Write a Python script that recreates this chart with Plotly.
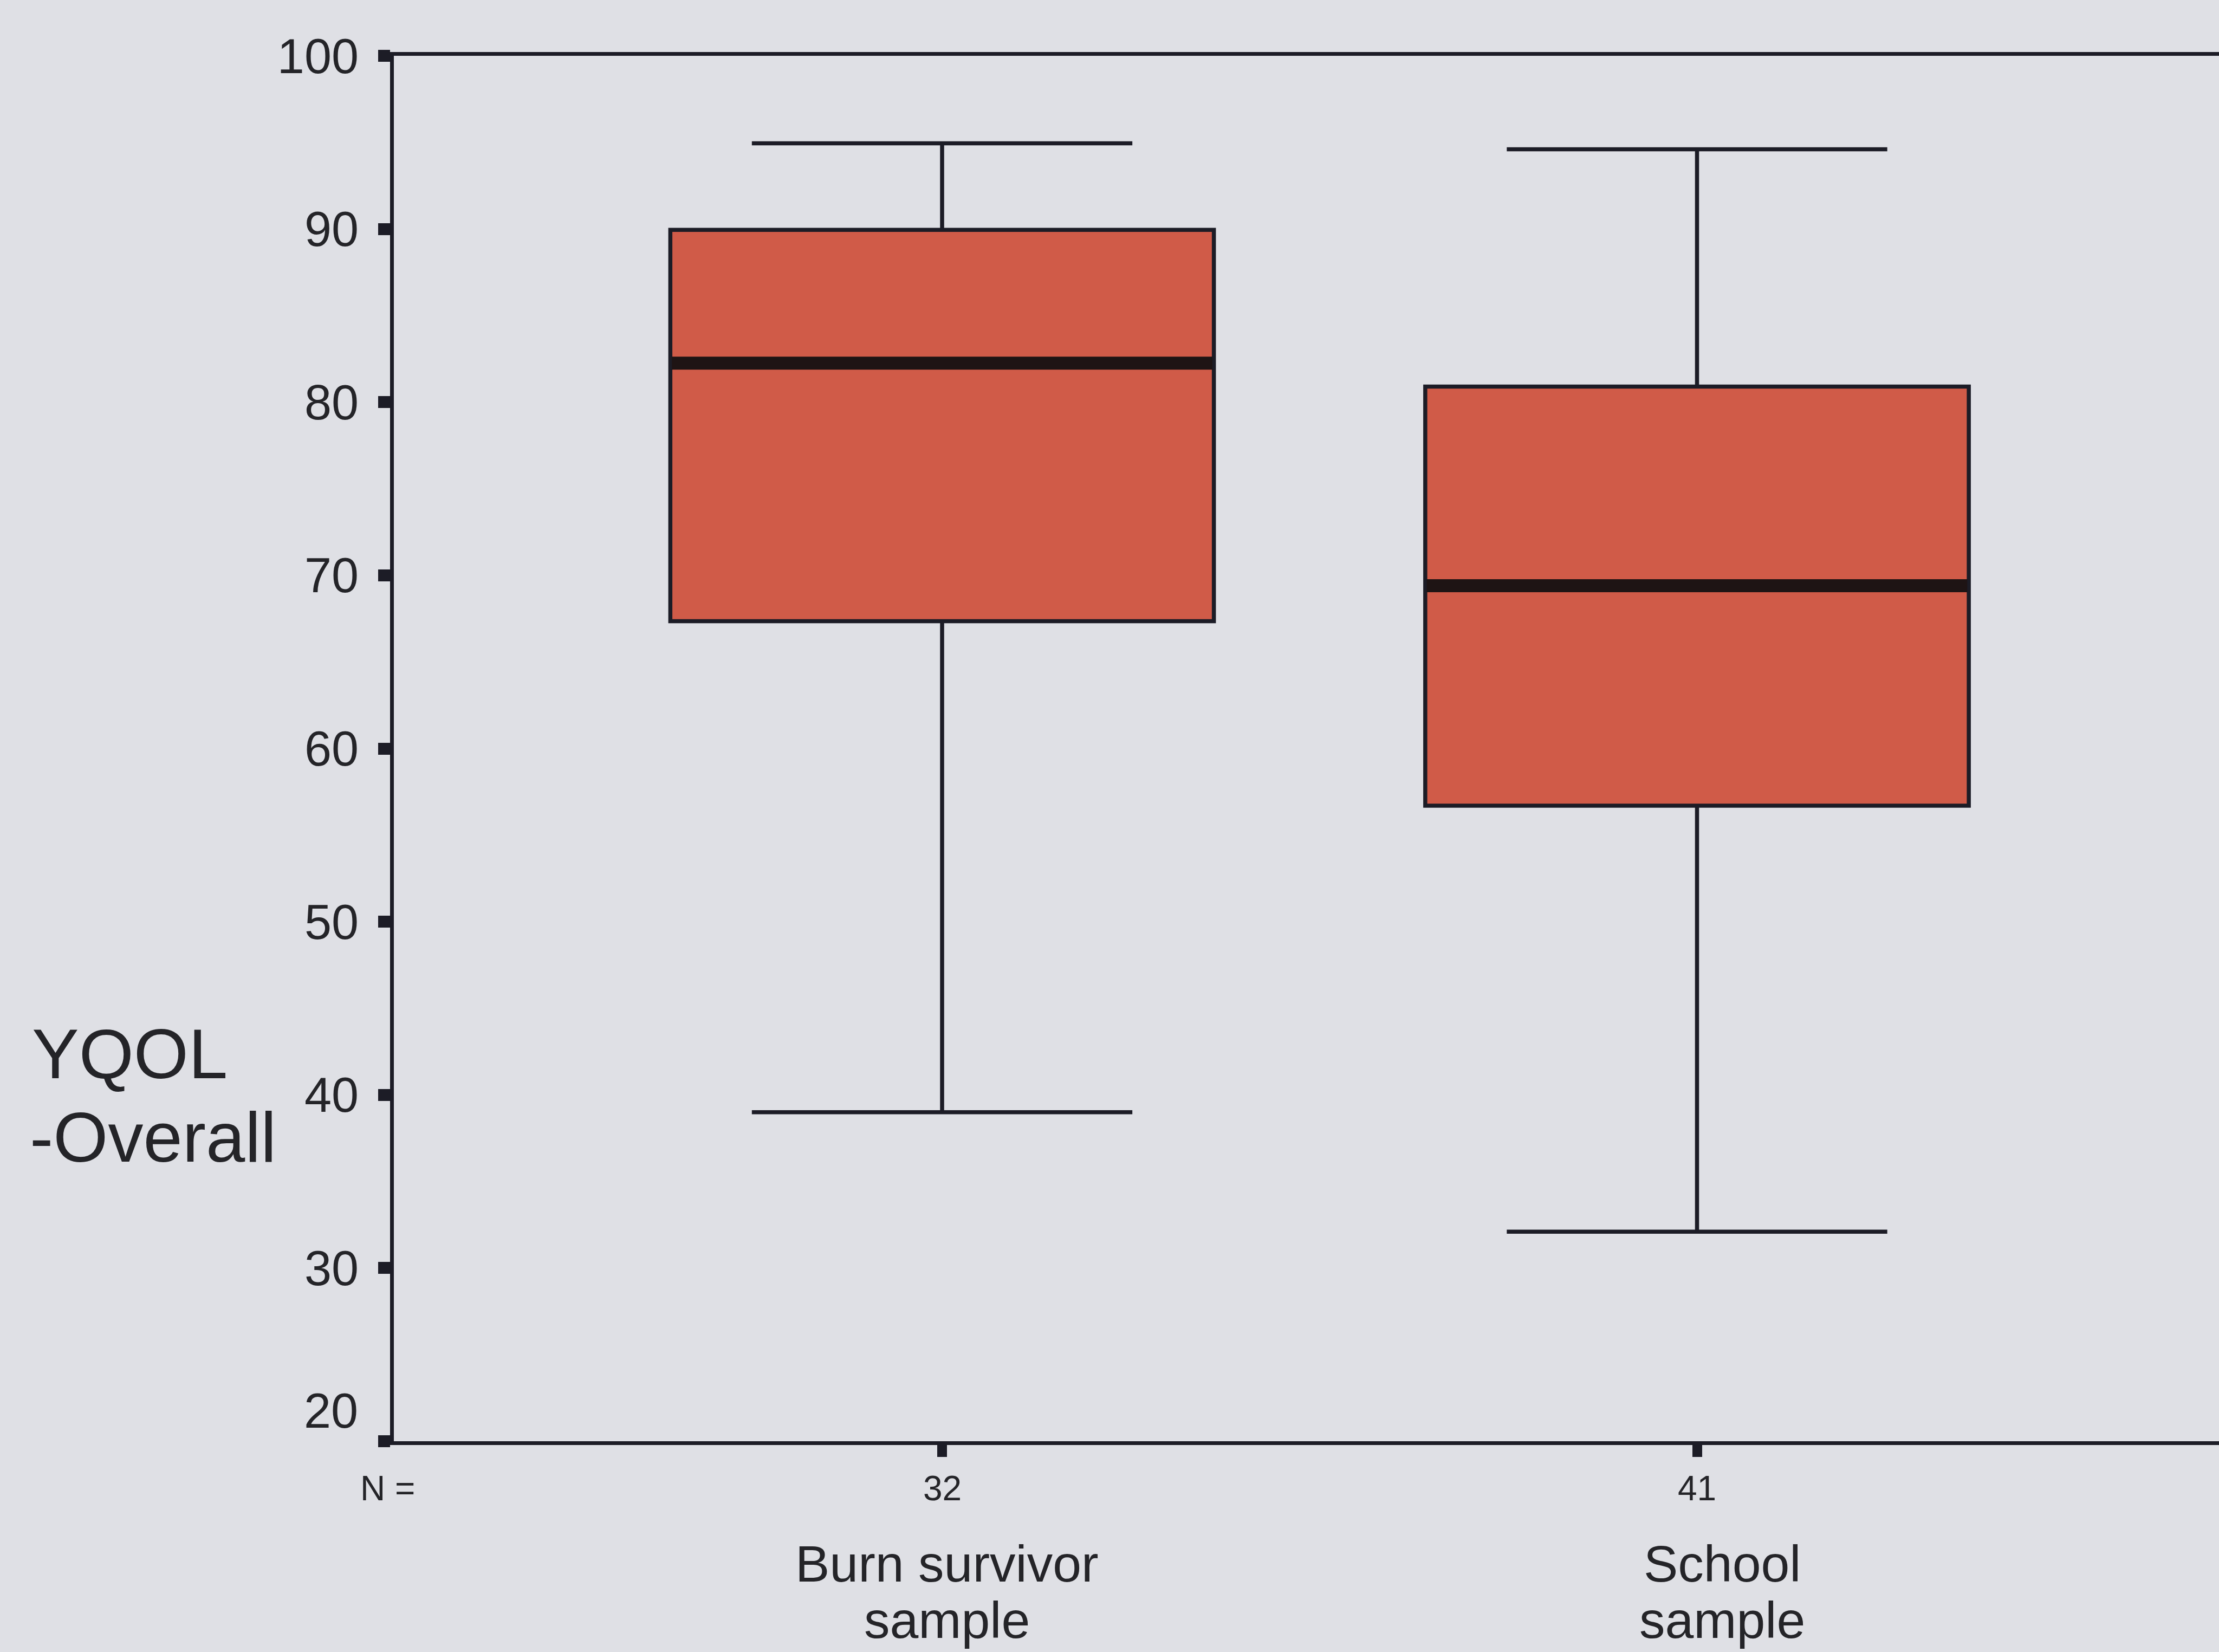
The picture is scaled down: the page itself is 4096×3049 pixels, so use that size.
import plotly.graph_objects as go

# YQOL-Overall scores by sample: five-number summaries for each box
group_line1 = ["Burn survivor", "School"]
group_line2 = ["sample", "sample"]
n_counts = [32, 41]
lower_whisker = [39.0, 32.1]
q1 = [67.35, 56.7]
median = [82.25, 69.4]
q3 = [89.95, 80.9]
upper_whisker = [94.95, 94.6]

y_ticks = [20, 30, 40, 50, 60, 70, 80, 90, 100]

positions = list(range(len(n_counts)))

FONT = "Liberation Sans, Arial, Helvetica, sans-serif"
TEXT = "#242428"
LINE = "#1c1c26"
BG = "#dfe0e5"
FILL = "#d05b48"
BOX_W = 0.72

W, H = 4096, 3049
ML, MR, MT, MB = 727, 0, 103, 389
PW = W - ML - MR
PH = H - MT - MB


def px_to_paper_x(px):
    return (px - ML) / PW


def px_to_paper_y(py):
    return (H - MB - py) / PH


fig = go.Figure()

fig.add_trace(go.Box(
    x=positions,
    q1=q1,
    median=median,
    q3=q3,
    lowerfence=lower_whisker,
    upperfence=upper_whisker,
    width=BOX_W,
    whiskerwidth=0.7,
    fillcolor=FILL,
    line=dict(color=LINE, width=7.5),
    boxpoints=False,
    showlegend=False,
    hoverinfo="skip",
))

# heavy median bars drawn over each box
for p, m in zip(positions, median):
    half = BOX_W / 2 - 0.002
    fig.add_trace(go.Scatter(
        x=[p - half, p + half],
        y=[m, m],
        mode="lines",
        line=dict(color="#1e1414", width=24),
        showlegend=False,
        hoverinfo="skip",
    ))

annotations = []

# sample sizes under the axis
annotations.append(dict(
    text="N =", xref="paper", yref="paper",
    x=px_to_paper_x(663), y=px_to_paper_y(2747),
    xanchor="left", yanchor="middle", showarrow=False,
    font=dict(family=FONT, size=64, color=TEXT),
))
for p, n in zip(positions, n_counts):
    annotations.append(dict(
        text=str(n), xref="x", yref="paper",
        x=p, y=px_to_paper_y(2747),
        xanchor="center", yanchor="middle", showarrow=False,
        font=dict(family=FONT, size=64, color=TEXT),
    ))

# two-line group labels
label_shift = [9, 46]
for p, l1, l2, s in zip(positions, group_line1, group_line2, label_shift):
    annotations.append(dict(
        text=l1, xref="x", yref="paper",
        x=p, y=px_to_paper_y(2886), xshift=s,
        xanchor="center", yanchor="middle", showarrow=False,
        font=dict(family=FONT, size=95, color=TEXT),
    ))
    annotations.append(dict(
        text=l2, xref="x", yref="paper",
        x=p, y=px_to_paper_y(2990), xshift=s,
        xanchor="center", yanchor="middle", showarrow=False,
        font=dict(family=FONT, size=95, color=TEXT),
    ))

# y-axis title in two left-aligned lines
annotations.append(dict(
    text="YQOL", xref="paper", yref="paper",
    x=px_to_paper_x(57), y=px_to_paper_y(1945),
    xanchor="left", yanchor="middle", showarrow=False,
    font=dict(family=FONT, size=130, color=TEXT),
))
annotations.append(dict(
    text="-Overall", xref="paper", yref="paper",
    x=px_to_paper_x(53), y=px_to_paper_y(2099),
    xanchor="left", yanchor="middle", showarrow=False,
    font=dict(family=FONT, size=130, color=TEXT),
))

# lowest tick label sits raised above the baseline corner
annotations.append(dict(
    text=str(y_ticks[0]), xref="paper", yref="y",
    x=0, y=y_ticks[0], xshift=-64, yshift=56,
    xanchor="right", yanchor="middle", showarrow=False,
    font=dict(family=FONT, size=90, color=TEXT),
))

x_left = -(1739 - ML) / 1393.5
x_right = (W - 1739) / 1393.5

fig.update_layout(
    width=W, height=H,
    margin=dict(l=ML, r=MR, t=MT, b=MB, pad=0),
    paper_bgcolor=BG,
    plot_bgcolor=BG,
    font=dict(family=FONT, color=TEXT),
    annotations=annotations,
    showlegend=False,
    xaxis=dict(
        range=[x_left, x_right],
        tickvals=positions,
        showticklabels=False,
        ticks="outside", ticklen=22, tickwidth=18, tickcolor=LINE,
        showline=True, linewidth=7, linecolor=LINE, mirror=True,
        showgrid=False, zeroline=False,
    ),
    yaxis=dict(
        range=[y_ticks[0], y_ticks[-1]],
        tickvals=y_ticks,
        ticktext=[""] + [str(v) for v in y_ticks[1:]],
        ticks="outside", ticklen=22, tickwidth=22, tickcolor=LINE,
        ticklabelstandoff=18,
        tickfont=dict(family=FONT, size=90, color=TEXT),
        showline=True, linewidth=7, linecolor=LINE, mirror=False,
        showgrid=False, zeroline=False,
    ),
)

fig.write_html("out.html")
